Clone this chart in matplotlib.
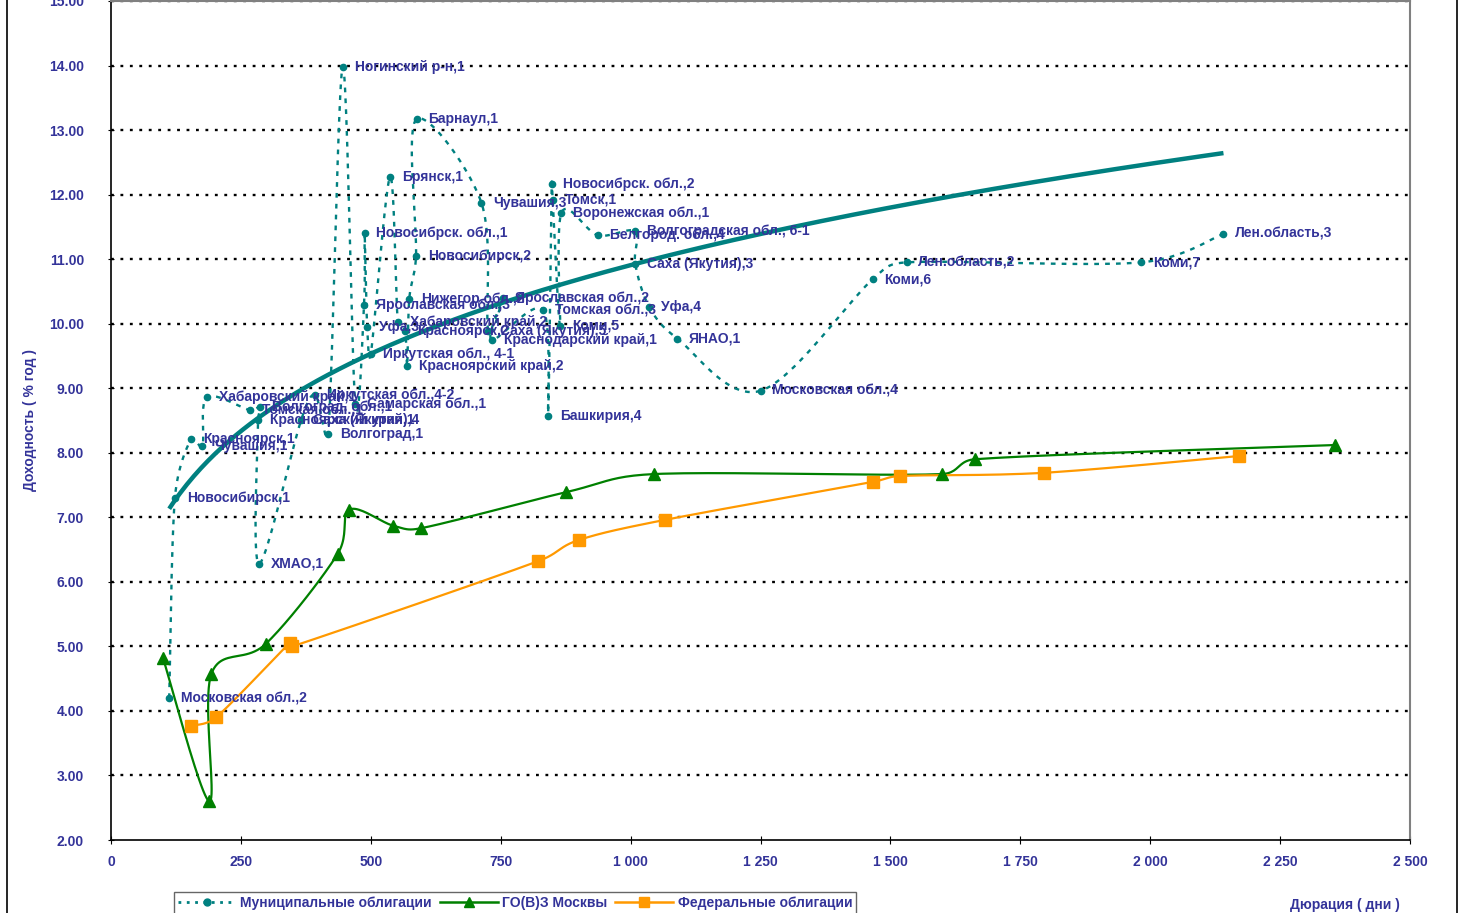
import numpy as np
import matplotlib
matplotlib.use("Agg")
import matplotlib.pyplot as plt
from matplotlib.ticker import FuncFormatter
from matplotlib.lines import Line2D
from matplotlib.patches import Rectangle

plt.rcParams['font.family'] = ['Liberation Sans', 'DejaVu Sans']

# муниципальные облигации: имя, дюрация (дни), доходность (% год)
muni_names = [
    "Московская обл.,2", "Новосибирск,1", "Красноярск,1", "Чувашия,1",
    "Хабаровский край,1", "Томская обл.,1", "Волгоград. обл.,1",
    "Красноярский край,1", "ХМАО,1", "Саха (Якутия),4", "Иркутская обл.,4-2",
    "Волгоград,1", "Ногинский р-н,1", "Самарская обл.,1", "Ярославская обл.,3",
    "Новосибрск. обл.,1", "Уфа,3", "Иркутская обл., 4-1", "Брянск,1",
    "Хабаровский край,2", "Красноярск,2", "Красноярский край,2",
    "Нижегор.обл.,2", "Новосибирск,2", "Барнаул,1", "Чувашия,3",
    "Саха (Якутия),5", "Ярославская обл.,2", "Краснодарский край,1",
    "Томская обл.,3", "Башкирия,4", "Новосибрск. обл.,2", "Томск,1", "Коми,5",
    "Воронежская обл.,1", "Белгород. обл.,4", "Волгоградская обл., 6-1",
    "Саха (Якутия),3", "Уфа,4", "ЯНАО,1", "Московская обл.,4", "Коми,6",
    "Лен.область,2", "Коми,7", "Лен.область,3",
]
muni_dur = [
    112, 123, 154, 176, 185, 268, 287, 283, 285, 366, 393, 418, 446, 470,
    487, 488, 493, 500, 537, 552, 566, 570, 574, 587, 588, 713, 726, 754,
    733, 832, 841, 848, 850, 864, 867, 937, 1008, 1009, 1036, 1090, 1250,
    1466, 1531, 1982, 2141,
]
muni_yld = [
    4.20, 7.30, 8.21, 8.11, 8.86, 8.66, 8.71, 8.51, 6.28, 8.51, 8.90, 8.29,
    13.98, 8.76, 10.29, 11.41, 9.95, 9.53, 12.27, 10.03, 9.89, 9.35, 10.38,
    11.05, 13.17, 11.87, 9.89, 10.40, 9.75, 10.21, 8.57, 12.17, 11.92, 9.97,
    11.72, 11.37, 11.43, 10.92, 10.26, 9.77, 8.96, 10.69, 10.95, 10.95, 11.39,
]

# ГО(В)З Москвы
mos_dur = [100, 189, 193, 298, 436, 459, 543, 596, 876, 1045, 1599, 1663, 2356]
mos_yld = [4.82, 2.60, 4.57, 5.04, 6.43, 7.12, 6.87, 6.83, 7.39, 7.67, 7.67, 7.90, 8.12]

# Федеральные облигации
fed_dur = [154, 202, 345, 349, 822, 901, 1066, 1467, 1519, 1796, 2171]
fed_yld = [3.77, 3.90, 5.06, 5.00, 6.32, 6.65, 6.96, 7.55, 7.64, 7.69, 7.95]

TEXT = '#333399'
TEAL = '#008080'
GREEN = '#008000'
ORANGE = '#FF9900'


def smooth(ax, xs, ys, n=24):
    """ сглаживание как в Excel (Безье по точкам, в пикселях) """
    pts = ax.transData.transform(np.column_stack([xs, ys]))
    p = np.vstack([pts[0], pts, pts[-1]])
    t = np.linspace(0, 1, n)[:, None]
    out = []
    for i in range(1, len(p) - 2):
        p0, p1, p2, p3 = p[i - 1], p[i], p[i + 1], p[i + 2]
        seg_len = np.hypot(*(p2 - p1))
        a1 = (p2 - p0) / 6
        a2 = (p3 - p1) / 6
        # ограничение плеч, чтобы не было петель
        for a in (a1, a2):
            L = np.hypot(*a)
            if L > seg_len * 0.5 and L > 0:
                a *= seg_len * 0.5 / L
        c1 = p1 + a1
        c2 = p2 - a2
        seg = ((1 - t) ** 3) * p1 + 3 * ((1 - t) ** 2) * t * c1 \
            + 3 * (1 - t) * t ** 2 * c2 + t ** 3 * p2
        out.append(seg)
    curve = np.vstack(out)
    return ax.transData.inverted().transform(curve).T


W, H = 1463, 913
fig = plt.figure(figsize=(W / 100, H / 100), dpi=100)
ax = fig.add_axes([111 / W, 1 - 840 / H, (1410 - 111) / W, (840 - 1) / H])
ax.set_xlim(0, 2500)
ax.set_ylim(2, 15)

# сетка
for y in range(3, 16):
    ax.axhline(y, color='black', lw=1.7, ls=(0, (1.2, 2.8)), zorder=1)

for s in ['left', 'bottom']:
    ax.spines[s].set_color('black')
    ax.spines[s].set_linewidth(1.2)
for s in ['top', 'right']:
    ax.spines[s].set_color('#808080')
    ax.spines[s].set_linewidth(1.5)

ax.set_yticks(np.arange(2, 16, 1))
ax.yaxis.set_major_formatter(FuncFormatter(lambda v, p: "%.2f" % v))
ax.set_xticks(np.arange(0, 2501, 250))
ax.xaxis.set_major_formatter(
    FuncFormatter(lambda v, p: "{:,}".format(int(v)).replace(",", " ")))
ax.tick_params(axis='y', direction='inout', length=5, pad=17,
               labelcolor=TEXT, labelsize=10)
ax.tick_params(axis='x', direction='inout', length=6, pad=8,
               labelcolor=TEXT, labelsize=10)
for lb in ax.get_xticklabels() + ax.get_yticklabels():
    lb.set_fontweight('bold')

# муниципальные
mx, my = smooth(ax, muni_dur, muni_yld)
ax.plot(mx, my, color=TEAL, lw=1.7, ls=(0, (2, 2.6)), zorder=3)
ax.plot(muni_dur, muni_yld, 'o', color=TEAL, ms=4.5, ls='none', zorder=4)

# степенной тренд
d, lnc = np.polyfit(np.log(muni_dur), np.log(muni_yld), 1)
xt = np.linspace(min(muni_dur), max(muni_dur), 300)
ax.plot(xt, np.exp(lnc) * xt ** d, color=TEAL, lw=3.2, zorder=5,
        solid_capstyle='butt')

for name, x, y in zip(muni_names, muni_dur, muni_yld):
    ax.annotate(name, (x, y), xytext=(8.5, 0), textcoords='offset points',
                ha='left', va='center', fontsize=10, fontweight='bold',
                color=TEXT, zorder=6)

# ГО(В)З Москвы
gx, gy = smooth(ax, mos_dur, mos_yld)
ax.plot(gx, gy, color=GREEN, lw=1.6, zorder=3)
ax.plot(mos_dur, mos_yld, '^', color=GREEN, ms=8, ls='none', zorder=4)

# федеральные
fx, fy = smooth(ax, fed_dur, fed_yld)
ax.plot(fx, fy, color=ORANGE, lw=1.6, zorder=3)
ax.plot(fed_dur, fed_yld, 's', color=ORANGE, ms=8, ls='none', zorder=4)

# легенда
handles = [
    Line2D([], [], color=TEAL, lw=2, ls=(0, (1, 2)), marker='o', ms=5),
    Line2D([], [], color=GREEN, lw=1.8, marker='^', ms=7),
    Line2D([], [], color=ORANGE, lw=1.8, marker='s', ms=7),
]
labels = ["Муниципальные облигации", "ГО(В)З Москвы", "Федеральные облигации"]
leg = fig.legend(handles, labels, loc='center',
                 bbox_to_anchor=(515 / W, 1 - 903 / H), ncol=3,
                 frameon=True, fancybox=False, edgecolor='#404040',
                 handlelength=4.2, columnspacing=0.55, handletextpad=0.3,
                 borderpad=0.3, borderaxespad=0,
                 prop={'size': 10, 'weight': 'bold'})
leg.get_frame().set_linewidth(1.0)
for t in leg.get_texts():
    t.set_color(TEXT)

fig.text(30 / W, 1 - 420 / H, "Доходность ( % год )", rotation=90,
         ha='center', va='center', color=TEXT, fontsize=10, fontweight='bold')
fig.text(1345 / W, 1 - 905 / H, "Дюрация ( дни )", ha='center', va='center',
         color=TEXT, fontsize=10, fontweight='bold')

# рамка диаграммы
fig.add_artist(Rectangle((7 / W, -0.1), (1457 - 7) / W, 1.2,
                         transform=fig.transFigure, fill=False,
                         edgecolor='black', lw=1.2))

fig.savefig("out.png", dpi=100)
